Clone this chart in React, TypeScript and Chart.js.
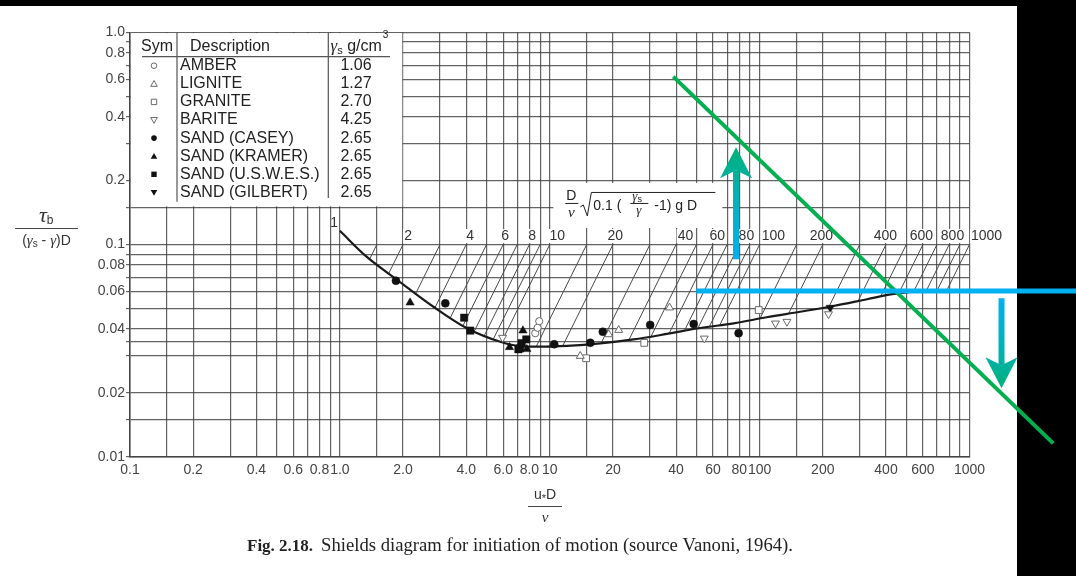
import React, { useEffect, useRef } from 'react';
import { Chart, registerables } from 'chart.js';
Chart.register(...registerables);

const W = 1076;
const H = 576;
const SANS = '"Liberation Sans", Arial, Helvetica, sans-serif';
const SERIF = '"Liberation Serif", "Times New Roman", serif';

// axis grids and tick labels
const xGridValues = [0.1, 0.15, 0.2, 0.3, 0.4, 0.5, 0.6, 0.7, 0.8, 0.9, 1, 1.5, 2, 3, 4, 5, 6, 7, 8, 9, 10, 15, 20, 30, 40, 50, 60, 70, 80, 90, 100, 150, 200, 300, 400, 500, 600, 700, 800, 900, 1000];
const xLabelValues = [0.1, 0.2, 0.4, 0.6, 0.8, 1, 2, 4, 6, 8, 10, 20, 40, 60, 80, 100, 200, 400, 600, 1000];
const xLabelTexts = ['0.1', '0.2', '0.4', '0.6', '0.8', '1.0', '2.0', '4.0', '6.0', '8.0', '10', '20', '40', '60', '80', '100', '200', '400', '600', '1000'];
const yGridValues = [0.01, 0.015, 0.02, 0.03, 0.035, 0.04, 0.05, 0.06, 0.07, 0.08, 0.09, 0.1, 0.15, 0.2, 0.3, 0.4, 0.5, 0.6, 0.7, 0.8, 0.9, 1];
const yLabelValues = [0.01, 0.02, 0.04, 0.06, 0.08, 0.1, 0.2, 0.4, 0.6, 0.8, 1];
const yLabelTexts = ['0.01', '0.02', '0.04', '0.06', '0.08', '0.1', '0.2', '0.4', '0.6', '0.8', '1.0'];

// Shields curve
const curveRe = [1.0, 1.34, 1.88, 2.79, 4.03, 5.81, 7.22, 9.0, 12.1, 17.4, 25.1, 36.2, 52.2, 75.2, 108, 156, 225, 325, 436, 540];
const curveTau = [0.116, 0.0876, 0.068, 0.0509, 0.0403, 0.0348, 0.0332, 0.033, 0.0333, 0.0342, 0.0357, 0.0379, 0.0404, 0.0425, 0.0454, 0.0482, 0.0513, 0.0552, 0.0585, 0.06];

// hatch lines of constant D/nu*sqrt(0.1(gs/g-1)gD): start on the 0.1 line, end on the curve
const hatchP = [1.5, 2, 3, 4, 5, 6, 7, 8, 9, 10, 15, 20, 30, 40, 50, 60, 70, 80, 90, 100, 150, 200, 300, 400, 500, 600, 700, 800, 900, 1000];
const hatchStartTau = 0.1;
const hatchEndRe = [1.38, 1.7, 2.29, 2.84, 3.36, 3.86, 4.37, 4.89, 5.39, 5.88, 8.63, 11.5, 17.5, 23.8, 30.3, 37.0, 43.8, 50.8, 57.6, 64.5, 100, 137, 214, 294, 377, 461, 542, 625, 705, 785];
const hatchEndTau = [0.0846, 0.0723, 0.0583, 0.0504, 0.0452, 0.0414, 0.039, 0.0374, 0.0359, 0.0346, 0.0331, 0.0331, 0.034, 0.0354, 0.0367, 0.038, 0.0392, 0.0403, 0.041, 0.0416, 0.0444, 0.0469, 0.0509, 0.054, 0.0569, 0.059, 0.06, 0.061, 0.0614, 0.0616];

// labels of the hatch lines
const topLabelTexts = ['2', '4', '6', '8', '10', '20', '40', '60', '80', '100', '200', '400', '600', '800', '1000'];
const topLabelRe = [2.115, 4.18, 6.13, 8.25, 10.86, 20.5, 44.3, 62.9, 86.5, 116.3, 197, 397.7, 590, 830, 1205];
const topLabelTau = 0.1096;
const oneLabelRe = 0.939;
const oneLabelTau = 0.126;

// legend table
const legendNames = ['AMBER', 'LIGNITE', 'GRANITE', 'BARITE', 'SAND (CASEY)', 'SAND (KRAMER)', 'SAND (U.S.W.E.S.)', 'SAND (GILBERT)'];
const legendGamma = ['1.06', '1.27', '2.70', '4.25', '2.65', '2.65', '2.65', '2.65'];

// data series
const amberRe = [8.53, 8.75, 8.91];
const amberTau = [0.0382, 0.0405, 0.0435];
const ligniteRe = [13.97, 19.1, 21.3, 37.2];
const ligniteTau = [0.0298, 0.0377, 0.0395, 0.0504];
const graniteRe = [14.9, 28.2, 99];
const graniteTau = [0.0291, 0.0344, 0.0491];
const bariteRe = [5.96, 54.5, 119, 135, 213];
const bariteTau = [0.0364, 0.0361, 0.0425, 0.0433, 0.047];
const caseyRe = [1.85, 3.18, 10.5, 15.6, 17.9, 30.1, 48.5, 79.4];
const caseyTau = [0.0675, 0.0528, 0.0339, 0.0344, 0.0388, 0.0418, 0.0422, 0.0382];
const kramerRe = [2.16, 6.43, 7.45, 7.78];
const kramerTau = [0.0532, 0.0328, 0.0393, 0.0321];
const uswesRe = [3.91, 4.18, 7.09, 7.23, 7.35, 7.73];
const uswesTau = [0.0452, 0.0393, 0.0321, 0.0324, 0.0343, 0.0357];
const gilbertRe = [217];
const gilbertTau = [0.0504];

// overlay annotations (data coordinates)
const greenLineRe = [38.8, 2506];
const greenLineTau = [0.618, 0.01156];
const blueLineRe = [49.9, 3236];
const blueLineTau = 0.0604;
const upArrowRe = 77.2;
const upArrowTau = [0.0852, 0.287];
const downArrowRe = 1421;
const downArrowTau = [0.0558, 0.021];

const pts = (xs: number[], ys: number[]) => xs.map((x, i) => ({ x, y: ys[i] }));

const OPEN = '#6a6a6a';
const FILL = '#111';

function marker(label: string, xs: number[], ys: number[], style: string, open: boolean, radius: number, rotation = 0) {
  return {
    label,
    data: pts(xs, ys),
    showLine: false,
    pointStyle: style,
    pointRadius: radius,
    pointRotation: rotation,
    pointBorderWidth: open ? 1 : 0.5,
    pointBorderColor: open ? OPEN : FILL,
    pointBackgroundColor: open ? '#ffffff' : FILL,
  };
}

function drawSym(ctx: CanvasRenderingContext2D, kind: number, x: number, y: number) {
  const open = kind < 4;
  const k = kind % 4;
  ctx.beginPath();
  if (k === 0) ctx.arc(x, y, 2.8, 0, Math.PI * 2);
  else if (k === 1) { ctx.moveTo(x, y - 3.3); ctx.lineTo(x - 3.3, y + 2.5); ctx.lineTo(x + 3.3, y + 2.5); ctx.closePath(); }
  else if (k === 2) ctx.rect(x - 2.7, y - 2.7, 5.4, 5.4);
  else { ctx.moveTo(x, y + 3.3); ctx.lineTo(x - 3.3, y - 2.5); ctx.lineTo(x + 3.3, y - 2.5); ctx.closePath(); }
  if (open) { ctx.strokeStyle = OPEN; ctx.lineWidth = 1; ctx.stroke(); }
  else { ctx.fillStyle = FILL; ctx.fill(); }
}

function drawArrow(ctx: CanvasRenderingContext2D, x: number, y0: number, yTip: number) {
  const dir = yTip > y0 ? 1 : -1;
  const headLen = 31, headW = 32, notch = 8, shaftW = 6;
  const g = ctx.createLinearGradient(0, y0, 0, yTip);
  g.addColorStop(0, '#00b0f0');
  g.addColorStop(0.55, '#00b2b8');
  g.addColorStop(1, '#00b076');
  ctx.fillStyle = g;
  const yNotch = yTip - dir * (headLen - notch);
  ctx.fillRect(x - shaftW / 2, Math.min(y0, yNotch), shaftW, Math.abs(yNotch - y0));
  ctx.beginPath();
  ctx.moveTo(x, yTip);
  ctx.lineTo(x - headW / 2, yTip - dir * headLen);
  ctx.lineTo(x, yNotch);
  ctx.lineTo(x + headW / 2, yTip - dir * headLen);
  ctx.closePath();
  ctx.fill();
}

function textRun(ctx: CanvasRenderingContext2D, parts: { t: string; f: string; dy?: number }[], x: number, y: number) {
  let cx = x;
  for (const p of parts) {
    ctx.font = p.f;
    ctx.fillText(p.t, cx, y + (p.dy || 0));
    cx += ctx.measureText(p.t).width;
  }
  return cx;
}
function runWidth(ctx: CanvasRenderingContext2D, parts: { t: string; f: string }[]) {
  let w = 0;
  for (const p of parts) { ctx.font = p.f; w += ctx.measureText(p.t).width; }
  return w;
}

const decor = {
  id: 'decor',
  beforeDraw(chart: any) {
    const ctx = chart.ctx as CanvasRenderingContext2D;
    ctx.save();
    ctx.fillStyle = '#000';
    ctx.fillRect(0, 0, W, H);
    ctx.fillStyle = '#fff';
    ctx.fillRect(0, 6, 1017, H - 6);
    ctx.restore();
  },
  afterDraw(chart: any) {
    const ctx = chart.ctx as CanvasRenderingContext2D;
    const xs = chart.scales.x;
    const ys = chart.scales.y;
    const X = (v: number) => xs.getPixelForValue(v);
    const Y = (v: number) => ys.getPixelForValue(v);
    const ca = chart.chartArea;
    ctx.save();

    // ---- legend table ----
    const bl = X(0.1) + 1, br = X(2) - 0.8, bt = Y(1) + 0.8, bb = Y(0.15) - 0.8;
    ctx.fillStyle = '#fff';
    ctx.fillRect(bl, bt, br - bl, bb - bt);
    const L = ca.left, T = ca.top;
    ctx.strokeStyle = '#555';
    ctx.lineWidth = 1.2;
    ctx.beginPath();
    ctx.moveTo(L + 47, T); ctx.lineTo(L + 47, T + 169.4);
    ctx.moveTo(L + 198.3, T); ctx.lineTo(L + 198.3, T + 165.7);
    ctx.moveTo(L + 12, T + 24.4); ctx.lineTo(L + 260, T + 24.4);
    ctx.stroke();
    ctx.fillStyle = '#222';
    ctx.textBaseline = 'middle';
    ctx.font = `16px ${SANS}`;
    ctx.textAlign = 'center';
    ctx.fillText('Sym', L + 27, T + 14.4);
    ctx.fillText('Description', L + 100, T + 14.4);
    ctx.textAlign = 'left';
    const hx = textRun(ctx, [
      { t: 'γ', f: `italic 17px ${SERIF}` },
      { t: 's', f: `11px ${SANS}`, dy: 4 },
      { t: ' g/cm', f: `16px ${SANS}` },
    ], L + 200.5, T + 14.4);
    ctx.font = `10px ${SANS}`;
    ctx.fillText('3', hx + 1, T + 3);
    for (let i = 0; i < legendNames.length; i++) {
      const ry = T + 33.4 + i * 18.1;
      drawSym(ctx, i, L + 24, ry);
      ctx.fillStyle = '#222';
      ctx.font = `16px ${SANS}`;
      ctx.textAlign = 'left';
      ctx.fillText(legendNames[i], L + 50, ry);
      ctx.textAlign = 'center';
      ctx.fillText(legendGamma[i], L + 226, ry);
    }

    // ---- formula box ----
    const fx = X(10.4), fy = Y(0.195);
    ctx.fillStyle = '#fff';
    ctx.fillRect(fx, fy, X(66.4) - fx, Y(0.1196) - fy);
    ctx.fillStyle = '#222';
    ctx.strokeStyle = '#222';
    ctx.lineWidth = 1;
    ctx.textAlign = 'center';
    ctx.font = `14px ${SANS}`;
    ctx.fillText('D', fx + 18, fy + 13);
    ctx.beginPath(); ctx.moveTo(fx + 12, fy + 20.5); ctx.lineTo(fx + 25, fy + 20.5); ctx.stroke();
    ctx.font = `italic 15px ${SERIF}`;
    ctx.fillText('ν', fx + 18, fy + 30);
    ctx.beginPath();
    ctx.moveTo(fx + 27, fy + 24); ctx.lineTo(fx + 30, fy + 22); ctx.lineTo(fx + 34, fy + 33);
    ctx.lineTo(fx + 38, fy + 9.5); ctx.lineTo(fx + 162, fy + 9.5);
    ctx.stroke();
    ctx.textAlign = 'left';
    ctx.font = `14px ${SANS}`;
    ctx.fillText('0.1 (', fx + 40, fy + 23);
    textRun(ctx, [{ t: 'γ', f: `italic 13px ${SERIF}` }, { t: 's', f: `9px ${SANS}`, dy: 3 }], fx + 79, fy + 14);
    ctx.beginPath(); ctx.moveTo(fx + 77, fy + 20.5); ctx.lineTo(fx + 95, fy + 20.5); ctx.stroke();
    ctx.font = `italic 13px ${SERIF}`;
    ctx.fillText('γ', fx + 83, fy + 28);
    ctx.font = `14px ${SANS}`;
    ctx.fillText(' -1) g D', fx + 97, fy + 23);

    // ---- labels of hatch lines ----
    ctx.font = `14px ${SANS}`;
    ctx.textAlign = 'center';
    for (let i = 0; i < topLabelTexts.length; i++) {
      const cx = X(topLabelRe[i]);
      const cy = Y(topLabelTau);
      const w = ctx.measureText(topLabelTexts[i]).width;
      ctx.fillStyle = '#fff';
      ctx.fillRect(cx - w / 2 - 1, cy - 7, w + 2, 14);
      ctx.fillStyle = '#333';
      ctx.fillText(topLabelTexts[i], cx, cy);
    }
    ctx.fillText('1', X(oneLabelRe), Y(oneLabelTau));

    // ---- axis titles ----
    ctx.fillStyle = '#333';
    ctx.textAlign = 'left';
    textRun(ctx, [{ t: 'τ', f: `italic 22px ${SERIF}` }, { t: 'b', f: `12px ${SANS}`, dy: 5 }], 39, 216);
    ctx.strokeStyle = '#444';
    ctx.lineWidth = 1;
    ctx.beginPath(); ctx.moveTo(15, 228.5); ctx.lineTo(78, 228.5); ctx.stroke();
    const den = [
      { t: '(', f: `14px ${SANS}` },
      { t: 'γ', f: `italic 15px ${SERIF}` },
      { t: 's', f: `10px ${SANS}`, dy: 3 },
      { t: ' - ', f: `14px ${SANS}` },
      { t: 'γ', f: `italic 15px ${SERIF}` },
      { t: ')D', f: `14px ${SANS}` },
    ];
    textRun(ctx, den, 46.5 - runWidth(ctx, den) / 2, 241);

    const num = [
      { t: 'u', f: `14px ${SANS}` },
      { t: '*', f: `11px ${SANS}`, dy: 4 },
      { t: 'D', f: `14px ${SANS}` },
    ];
    textRun(ctx, num, 545 - runWidth(ctx, num) / 2, 495);
    ctx.beginPath(); ctx.moveTo(528, 506.5); ctx.lineTo(562, 506.5); ctx.stroke();
    ctx.textAlign = 'center';
    ctx.font = `italic 15px ${SERIF}`;
    ctx.fillText('ν', 545, 518);

    // ---- caption ----
    ctx.textAlign = 'left';
    ctx.textBaseline = 'alphabetic';
    ctx.fillStyle = '#222';
    ctx.font = `bold 17px ${SERIF}`;
    ctx.fillText('Fig. 2.18.', 247, 551);
    const cap = 'Shields diagram for initiation of motion (source Vanoni, 1964).';
    ctx.font = `18px ${SERIF}`;
    const cw = ctx.measureText(cap).width;
    ctx.save();
    ctx.translate(321, 551);
    ctx.scale(472 / cw, 1);
    ctx.fillText(cap, 0, 0);
    ctx.restore();

    // ---- overlays ----
    ctx.lineCap = 'butt';
    ctx.strokeStyle = '#00b050';
    ctx.lineWidth = 4;
    ctx.beginPath();
    ctx.moveTo(X(greenLineRe[0]), Y(greenLineTau[0]));
    ctx.lineTo(X(greenLineRe[1]), Y(greenLineTau[1]));
    ctx.stroke();

    ctx.strokeStyle = '#00b0f0';
    ctx.lineWidth = 5;
    ctx.beginPath();
    ctx.moveTo(X(blueLineRe[0]), Y(blueLineTau));
    ctx.lineTo(X(blueLineRe[1]), Y(blueLineTau));
    ctx.stroke();

    drawArrow(ctx, X(upArrowRe), Y(upArrowTau[0]), Y(upArrowTau[1]));
    drawArrow(ctx, X(downArrowRe), Y(downArrowTau[0]), Y(downArrowTau[1]));

    ctx.restore();
  },
};

function labelFor(v: number, vals: number[], texts: string[]) {
  for (let i = 0; i < vals.length; i++) {
    if (Math.abs(vals[i] - v) / vals[i] < 1e-6) return texts[i];
  }
  return '';
}

export default function App() {
  const ref = useRef<HTMLCanvasElement>(null);
  useEffect(() => {
    document.body.style.margin = '0';
    const datasets: any[] = [
      marker('AMBER', amberRe, amberTau, 'circle', true, 3.6),
      marker('LIGNITE', ligniteRe, ligniteTau, 'triangle', true, 4.6),
      marker('GRANITE', graniteRe, graniteTau, 'rect', true, 4.8),
      marker('BARITE', bariteRe, bariteTau, 'triangle', true, 4.6, 180),
      marker('SAND (CASEY)', caseyRe, caseyTau, 'circle', false, 4),
      marker('SAND (KRAMER)', kramerRe, kramerTau, 'triangle', false, 4.8),
      marker('SAND (U.S.W.E.S.)', uswesRe, uswesTau, 'rect', false, 5.2),
      marker('SAND (GILBERT)', gilbertRe, gilbertTau, 'triangle', false, 4.8, 180),
      {
        label: 'Shields curve',
        data: pts(curveRe, curveTau),
        showLine: true,
        pointRadius: 0,
        borderColor: '#1a1a1a',
        borderWidth: 2.2,
        cubicInterpolationMode: 'monotone',
      },
    ];
    hatchP.forEach((p, i) => {
      datasets.push({
        label: 'P=' + p,
        data: [{ x: p, y: hatchStartTau }, { x: hatchEndRe[i], y: hatchEndTau[i] }],
        showLine: true,
        pointRadius: 0,
        borderColor: '#4a4a4a',
        borderWidth: 1,
      });
    });
    const gridColor = 'rgba(60,60,60,0.8)';
    const chart = new Chart(ref.current as HTMLCanvasElement, {
      type: 'scatter',
      data: { datasets },
      plugins: [decor],
      options: {
        animation: false,
        responsive: false,
        events: [],
        layout: { padding: { left: 0, top: 32.3, right: 106.5, bottom: 0 } },
        plugins: { legend: { display: false }, tooltip: { enabled: false }, title: { display: false } },
        scales: {
          x: {
            type: 'logarithmic',
            min: 0.1,
            max: 1000,
            afterBuildTicks: (s: any) => { s.ticks = xGridValues.map((v) => ({ value: v })); },
            afterFit: (s: any) => { s.height = 119.3; },
            grid: { color: gridColor, lineWidth: 1.2, drawTicks: false },
            border: { color: '#444', width: 1.5 },
            ticks: {
              autoSkip: false, maxRotation: 0, minRotation: 0, padding: 5, color: '#444',
              font: { family: SANS, size: 14 },
              callback: (v: any) => labelFor(Number(v), xLabelValues, xLabelTexts),
            },
          },
          y: {
            type: 'logarithmic',
            min: 0.01,
            max: 1,
            afterBuildTicks: (s: any) => { s.ticks = yGridValues.map((v) => ({ value: v })); },
            afterFit: (s: any) => { s.width = 130; },
            grid: { color: gridColor, lineWidth: 1.2, drawTicks: true, tickLength: 4 },
            border: { color: '#444', width: 1.5 },
            ticks: {
              autoSkip: false, padding: 1, color: '#444',
              font: { family: SANS, size: 14 },
              callback: (v: any) => labelFor(Number(v), yLabelValues, yLabelTexts),
            },
          },
        },
      } as any,
    });
    return () => chart.destroy();
  }, []);
  return (
    <div style={{ position: 'fixed', left: 0, top: 0, width: W, height: H }}>
      <canvas ref={ref} width={W} height={H} style={{ display: 'block' }} />
    </div>
  );
}
